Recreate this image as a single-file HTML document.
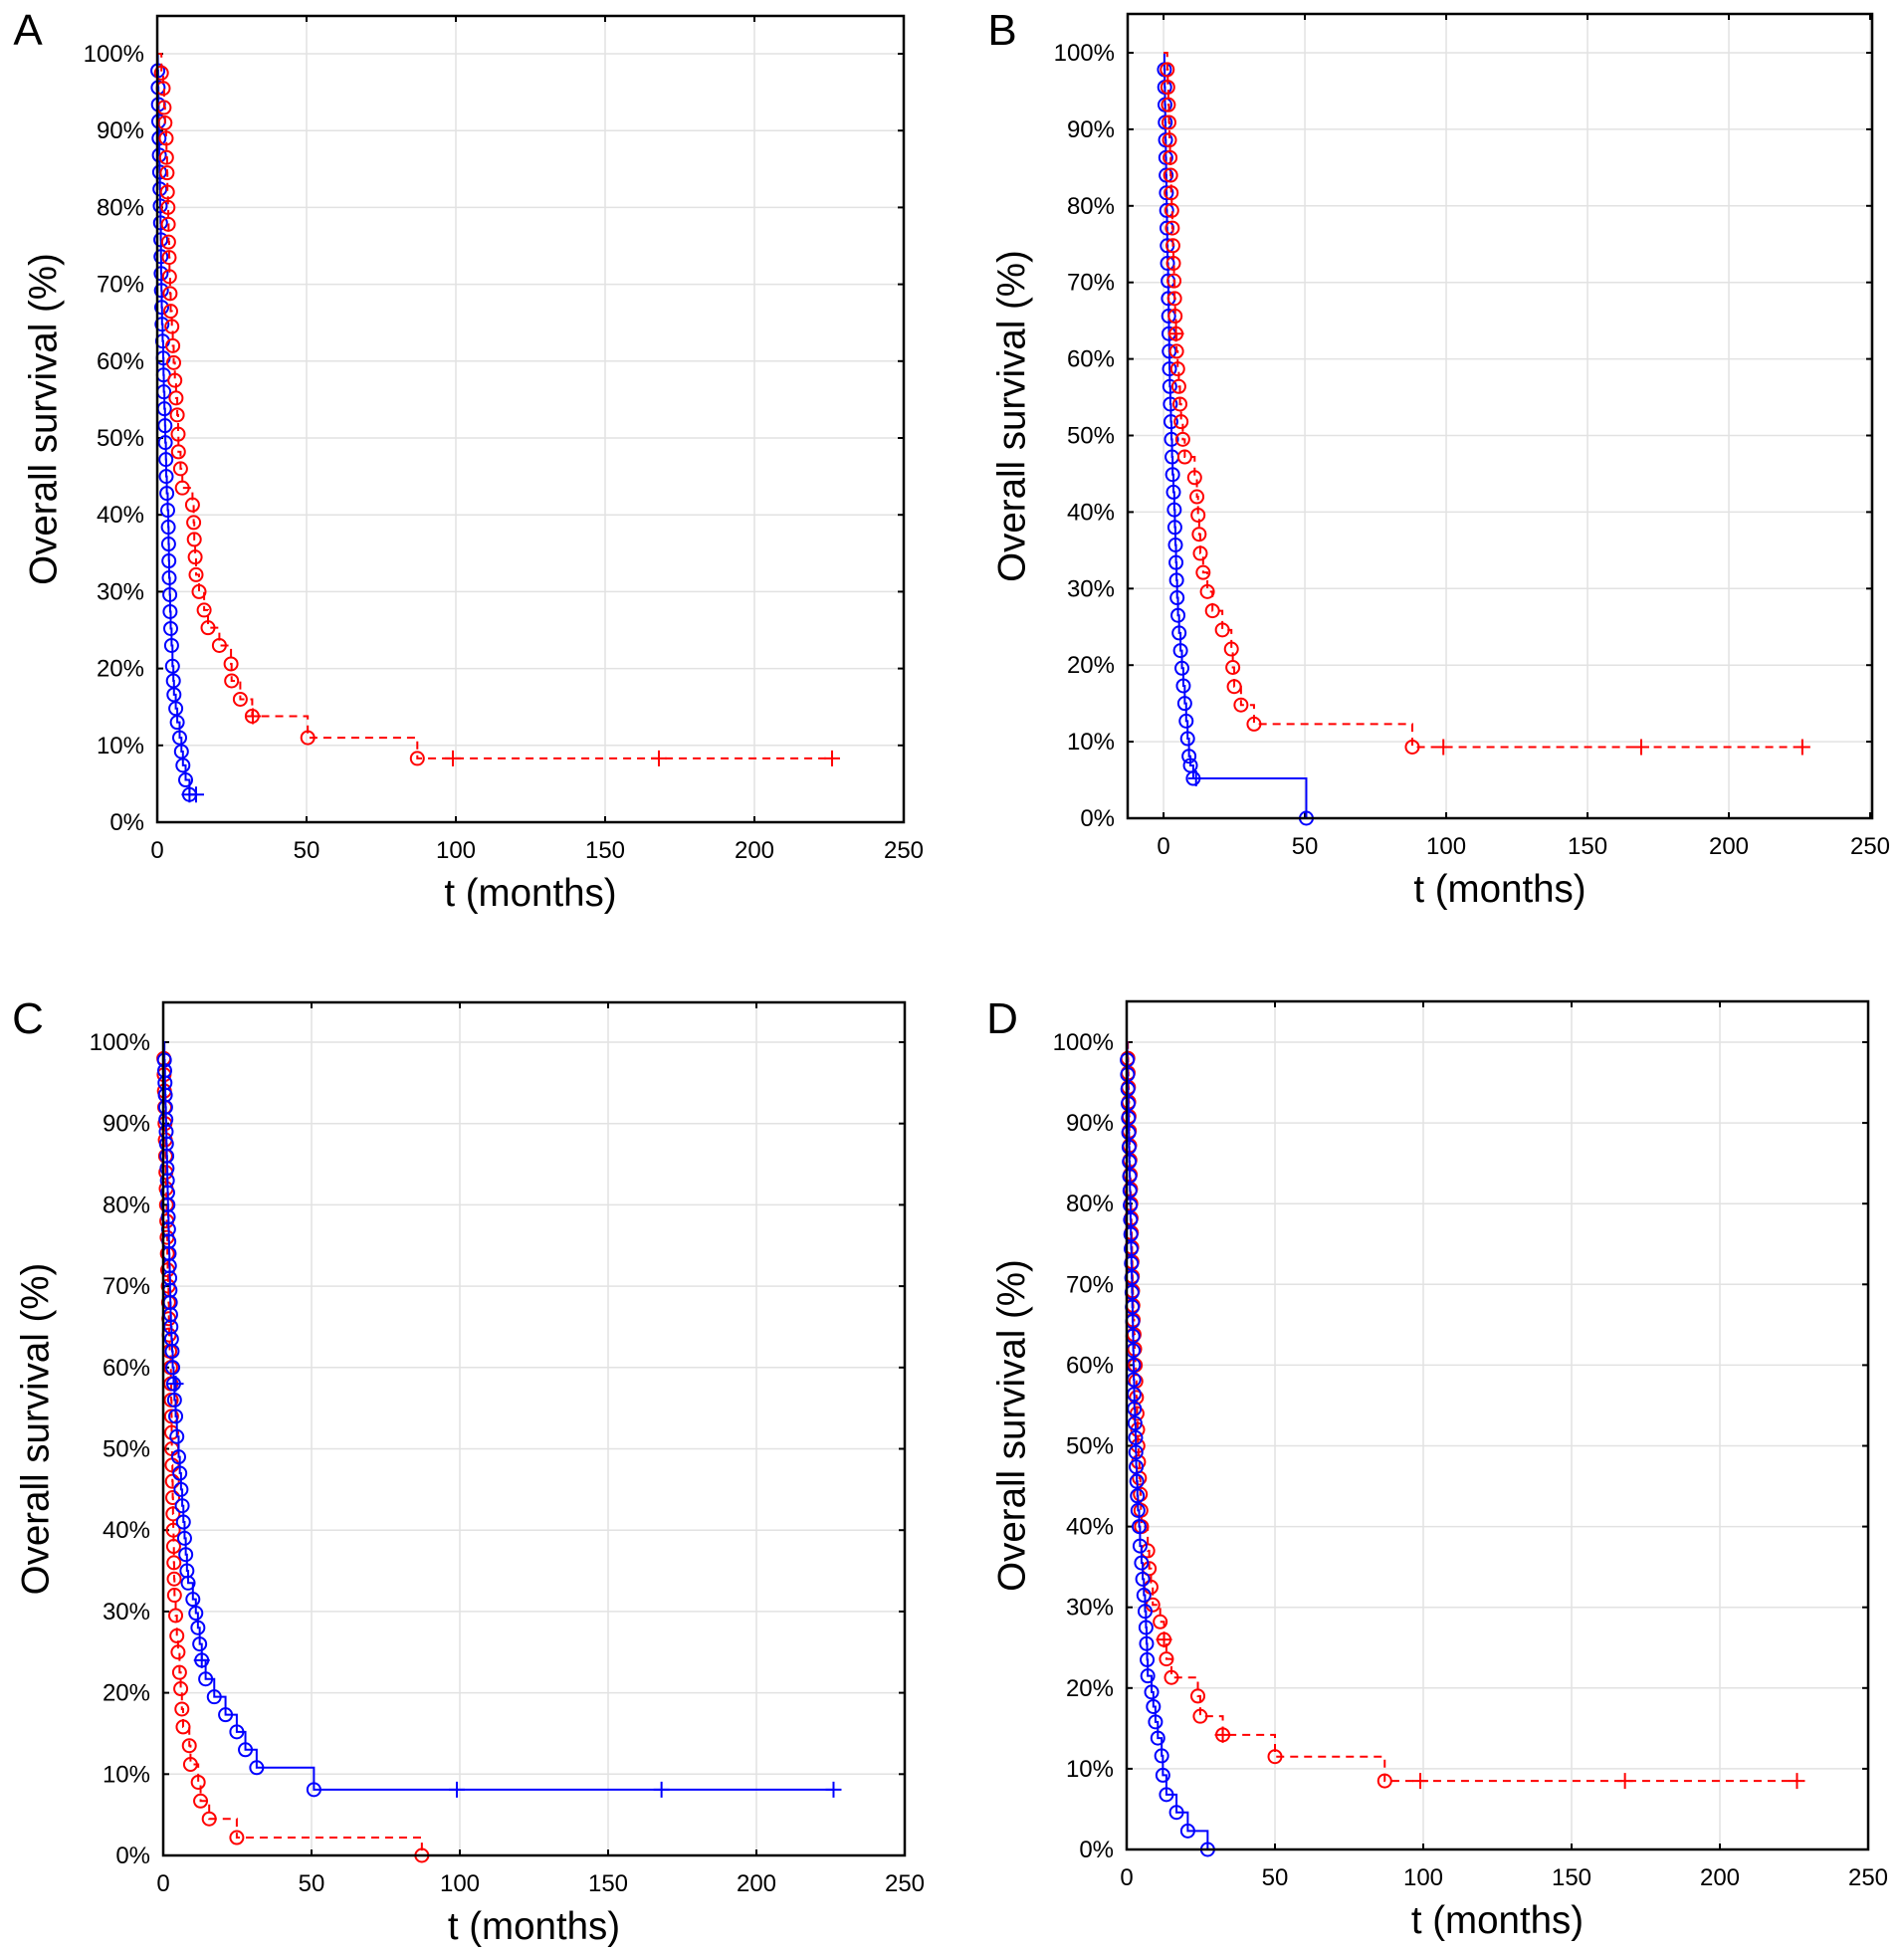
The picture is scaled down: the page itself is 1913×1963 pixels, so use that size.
<!DOCTYPE html>
<html><head><meta charset="utf-8">
<style>
html,body{margin:0;padding:0;background:#fff;}
svg{display:block;font-family:"Liberation Sans",Arial,sans-serif;}
</style></head>
<body>
<svg id="fig" width="1913" height="1963" viewBox="0 0 1913 1963" xmlns="http://www.w3.org/2000/svg"></svg>
<script>
// ---- Panel A data ----
const aRedT=[1.4,2,2.3,2.6,3,3.1,3.3,3.4,3.6,3.7,3.8,4,4.1,4.3,4.5,4.9,5.2,5.5,5.9,6.3,6.7,7,7.1,7.8,8.4,11.8,12.2,12.4,12.7,13,14,15.7,17,20.8,24.7,24.9,27.8,31.8,50.4,87.1];
const aRedS=[97.5,95.5,93,91,89,86.5,84.5,82,80,77.8,75.5,73.5,71,68.8,66.5,64.5,62,59.8,57.5,55.2,53,50.5,48.2,46,43.5,41.3,39,36.8,34.5,32.2,30,27.6,25.3,23,20.6,18.4,16,13.8,11,8.3];
const aRedCT=[32,99,168,226];
const aRedCS=[13.8,8.3,8.3,8.3];
const aBlueT=[0.2,0.3,0.4,0.5,0.6,0.7,0.8,0.9,1,1.1,1.2,1.25,1.3,1.4,1.5,1.6,1.8,2,2.1,2.2,2.4,2.6,2.7,2.9,3,3.2,3.5,3.7,3.8,3.9,4,4.2,4.3,4.5,4.8,5.1,5.4,5.6,6.2,6.7,7.5,8.1,8.6,9.5,10.8];
const aBlueS=[97.8,95.6,93.4,91.2,89,86.8,84.6,82.4,80.2,78,75.8,73.6,71.4,69.2,67,64.8,62.6,60.4,58.2,56,53.8,51.6,49.4,47.2,45,42.8,40.6,38.4,36.2,34,31.8,29.6,27.4,25.2,23,20.3,18.4,16.6,14.8,13,11,9.2,7.4,5.5,3.6];
const aBlueCT=[10.8,13];
const aBlueCS=[3.6,3.6];
// ---- Panel B data ----
const bRedT=[1.3,1.5,1.7,1.9,2.1,2.3,2.5,2.7,2.9,3.1,3.3,3.5,3.7,3.9,4.1,4.4,4.6,5,5.4,5.8,6.2,6.8,7.5,11,11.8,12.2,12.6,13,14,15.5,17.3,20.8,24,24.5,25,27.4,32,88];
const bRedS=[97.8,95.5,93.2,90.9,88.6,86.3,84,81.7,79.4,77.1,74.8,72.5,70.2,67.9,65.6,63.3,61,58.7,56.4,54.1,51.8,49.5,47.2,44.5,42,39.6,37.1,34.6,32.1,29.6,27.1,24.6,22.1,19.7,17.2,14.8,12.3,9.3];
const bRedCT=[4.4,99,169,226];
const bRedCS=[63.3,9.3,9.3,9.3];
const bBlueT=[0.3,0.4,0.5,0.6,0.7,0.8,0.9,1,1.1,1.2,1.3,1.4,1.6,1.7,1.8,1.9,2,2.1,2.2,2.4,2.6,2.8,3,3.2,3.5,3.8,4,4.2,4.4,4.6,4.8,5.1,5.5,6,6.5,7,7.5,8,8.5,9,9.5,10.5,50.5];
const bBlueS=[97.8,95.5,93.2,90.9,88.6,86.3,84,81.7,79.4,77.1,74.8,72.5,70.2,67.9,65.6,63.3,61,58.7,56.4,54.1,51.8,49.5,47.2,44.9,42.6,40.3,38,35.7,33.4,31.1,28.8,26.5,24.2,21.9,19.6,17.3,15,12.7,10.4,8.1,6.9,5.2,0];
const bBlueCT=[11.5];
const bBlueCS=[5.2];
// ---- Panel C data ----
const cBlueT=[0.4,0.5,0.6,0.7,0.8,0.9,1,1.1,1.2,1.3,1.4,1.5,1.6,1.7,1.8,1.9,2,2.1,2.2,2.3,2.4,2.5,2.6,2.8,3,3.2,3.5,3.8,4.2,4.6,5.2,5.6,6,6.4,6.8,7.2,7.6,8,8.4,10,11,11.7,12.3,13,14.3,17.2,21,24.8,27.7,31.5,50.8];
const cBlueS=[97.8,96.5,95,93.5,92,90.5,89,87.5,86,84.5,83,81.5,80,78.5,77,75.5,74,72.5,71,69.5,68,66.5,65,63.5,62,60,58,56,54,51.5,49,47,45,43,41,39,37,35,33.5,31.5,29.8,28,26,24,21.7,19.5,17.3,15.2,13,10.8,8.1];
const cBlueCT=[4.2,13,99,168,226];
const cBlueCS=[58,24,8.1,8.1,8.1];
const cRedT=[0.2,0.3,0.4,0.5,0.6,0.7,0.8,0.9,1,1.1,1.2,1.3,1.4,1.5,1.7,1.8,1.9,2,2.2,2.5,2.6,2.7,2.8,2.85,2.9,3,3.1,3.2,3.3,3.4,3.5,3.6,3.7,3.8,4.2,4.6,5,5.5,5.9,6.3,6.7,8.8,9.2,11.8,12.6,15.5,24.8,87.2];
const cRedS=[98,96,94,92,90,88,86,84,82,80,78,76,74,72,70,68,66,64,62,60,58,56,54,52,50,48,46,44,42,40,38,36,34,32,29.5,27,25,22.5,20.5,18,15.8,13.5,11.2,9,6.7,4.5,2.2,0];
const cRedCT=[];
const cRedCS=[];
// ---- Panel D data ----
const dBlueT=[0.2,0.3,0.4,0.5,0.6,0.7,0.8,0.9,1,1.1,1.2,1.3,1.4,1.5,1.6,1.7,1.8,1.9,2,2.1,2.2,2.3,2.4,2.5,2.6,2.8,3,3.1,3.2,3.4,3.6,3.8,4.2,4.5,5,5.4,5.8,6.2,6.5,6.7,6.9,7.1,8.4,9,9.7,10.5,11.8,12.2,13.4,16.8,20.6,27.3];
const dBlueS=[97.8,96,94.2,92.4,90.6,88.8,87,85.2,83.4,81.6,79.8,78,76.2,74.4,72.6,70.8,69,67.2,65.4,63.6,61.8,60,58.2,56.4,54.6,52.8,51,49.2,47.4,45.6,43.8,42,40,37.6,35.5,33.5,31.5,29.5,27.5,25.5,23.5,21.5,19.5,17.7,15.8,13.8,11.6,9.2,6.8,4.6,2.3,0];
const dBlueCT=[];
const dBlueCS=[];
const dRedT=[0.4,0.5,0.6,0.7,0.8,0.9,1,1.1,1.2,1.3,1.4,1.5,1.6,1.7,1.8,1.9,2,2.1,2.2,2.5,2.7,2.9,3.1,3.3,3.5,3.7,3.8,4,4.3,4.6,4.8,5,7.1,7.6,8.2,8.8,11.3,12.6,13.4,15.1,24,24.8,32.4,50,87];
const dRedS=[98,96.2,94.4,92.6,90.8,89,87.2,85.4,83.6,81.8,80,78.2,76.4,74.6,72.8,71,69.2,67.4,65.6,63.8,62,60,58,56,54,52,50,48,46,44,42,40,37,34.8,32.5,30.3,28.2,26,23.6,21.3,19,16.5,14.2,11.5,8.5];
const dRedCT=[12.6,32.4,99,168,226];
const dRedCS=[26,14.2,8.5,8.5,8.5];

const xTicks=[0,50,100,150,200,250];
const yTicks=[0,10,20,30,40,50,60,70,80,90,100];

const NS='http://www.w3.org/2000/svg';
const svg=document.getElementById('fig');
function mk(tag,attrs,parent){const e=document.createElementNS(NS,tag);for(const k in attrs)e.setAttribute(k,attrs[k]);(parent||svg).appendChild(e);return e;}

const panels=[
 {id:'a',letter:'A',lx:28,ly:45,L:158,R:908,T:16,B:826,xmin:0,xmax:250,y0:826,y100:54,ytx:44,
  series:[[aBlueT,aBlueS,aBlueCT,aBlueCS,'#0000ff',false,'blue'],[aRedT,aRedS,aRedCT,aRedCS,'#ff0000',true,'red']]},
 {id:'b',letter:'B',lx:1007,ly:45,L:1133,R:1881,T:14,B:822,xmin:-12.7,xmax:250.7,y0:822,y100:53,ytx:1017,
  series:[[bBlueT,bBlueS,bBlueCT,bBlueCS,'#0000ff',false,'blue'],[bRedT,bRedS,bRedCT,bRedCS,'#ff0000',true,'red']]},
 {id:'c',letter:'C',lx:28,ly:1038,L:164,R:909,T:1007,B:1864,xmin:0,xmax:250,y0:1864,y100:1047,ytx:36,
  series:[[cRedT,cRedS,cRedCT,cRedCS,'#ff0000',true,'red'],[cBlueT,cBlueS,cBlueCT,cBlueCS,'#0000ff',false,'blue']]},
 {id:'d',letter:'D',lx:1007,ly:1038,L:1132,R:1877,T:1006,B:1858,xmin:0,xmax:250,y0:1858,y100:1047,ytx:1017,
  series:[[dRedT,dRedS,dRedCT,dRedCS,'#ff0000',true,'red'],[dBlueT,dBlueS,dBlueCT,dBlueCS,'#0000ff',false,'blue']]}
];

panels.forEach(p=>{
  const g=mk('g',{});
  
  
  const X=t=>p.L+(t-p.xmin)/(p.xmax-p.xmin)*(p.R-p.L);
  const Y=s=>p.y0-s/100*(p.y0-p.y100);
  const lab=mk('text',{x:p.lx,y:p.ly,'font-size':44,'text-anchor':'middle',fill:'#000'},g);
  lab.textContent=p.letter;
  
  
  const grid=mk('g',{stroke:'#e2e2e2','stroke-width':1.5},g);
  
  
  yTicks.forEach(v=>{mk('line',{x1:p.L,x2:p.R,y1:Y(v),y2:Y(v)},grid);});
  xTicks.forEach(v=>{if(X(v)>p.L+1&&X(v)<p.R-1)mk('line',{x1:X(v),x2:X(v),y1:p.T,y2:p.B},grid);});
  yTicks.forEach(v=>{
    const t=mk('text',{x:p.L-13,y:Y(v)+8,'font-size':24,'text-anchor':'end',fill:'#000'},g);
    t.textContent=v+'%';
    
    
    mk('line',{x1:p.L,x2:p.L+6,y1:Y(v),y2:Y(v),stroke:'#000','stroke-width':2},g);
    mk('line',{x1:p.R,x2:p.R-6,y1:Y(v),y2:Y(v),stroke:'#000','stroke-width':2},g);
  });
  xTicks.forEach(v=>{
    const t=mk('text',{x:X(v),y:p.B+36,'font-size':24,'text-anchor':'middle',fill:'#000'},g);
    t.textContent=v;
    
    
    mk('line',{x1:X(v),x2:X(v),y1:p.B,y2:p.B-6,stroke:'#000','stroke-width':2},g);
    mk('line',{x1:X(v),x2:X(v),y1:p.T,y2:p.T+6,stroke:'#000','stroke-width':2},g);
  });
  const xt=mk('text',{x:(p.L+p.R)/2,y:p.B+84,'font-size':38.5,'text-anchor':'middle',fill:'#000'},g);
  xt.textContent='t (months)';
  
  
  const cy=(p.T+p.B)/2;
  const yt=mk('text',{x:p.ytx,y:cy,'font-size':38.5,'text-anchor':'middle',fill:'#000',transform:'rotate(-90 '+p.ytx+' '+cy+')','dominant-baseline':'central'},g);
  yt.textContent='Overall survival (%)';
  
  
  p.series.forEach(sr=>{
    const [T,S,CT,CS,col,dash,nm]=sr;
    const sg=mk('g',{stroke:col,fill:'none','stroke-width':2},g);
    
    
    let d='M'+X(0)+' '+Y(100);
    let prev=100;
    for(let i=0;i<T.length;i++){d+=' L'+X(T[i])+' '+Y(prev)+' L'+X(T[i])+' '+Y(S[i]);prev=S[i];}
    const lastCT=CT.length?Math.max(...CT):T[T.length-1];
    if(lastCT>T[T.length-1]) d+=' L'+X(lastCT)+' '+Y(prev);
    const path=mk('path',{d:d},sg);
    if(dash)path.setAttribute('stroke-dasharray','8 6');
    
    
    for(let i=0;i<T.length;i++){
      const c=mk('circle',{cx:X(T[i]),cy:Y(S[i]),r:6.5},sg);
      
      
    }
    for(let i=0;i<CT.length;i++){
      const x=X(CT[i]),y=Y(CS[i]);
      const m=mk('path',{d:'M'+(x-8)+' '+y+' L'+(x+8)+' '+y+' M'+x+' '+(y-8)+' L'+x+' '+(y+8)},sg);
      
      
    }
  });
  const fr=mk('rect',{x:p.L,y:p.T,width:p.R-p.L,height:p.B-p.T,fill:'none',stroke:'#000','stroke-width':2.5},g);
  
  
});
</script>
</body></html>
